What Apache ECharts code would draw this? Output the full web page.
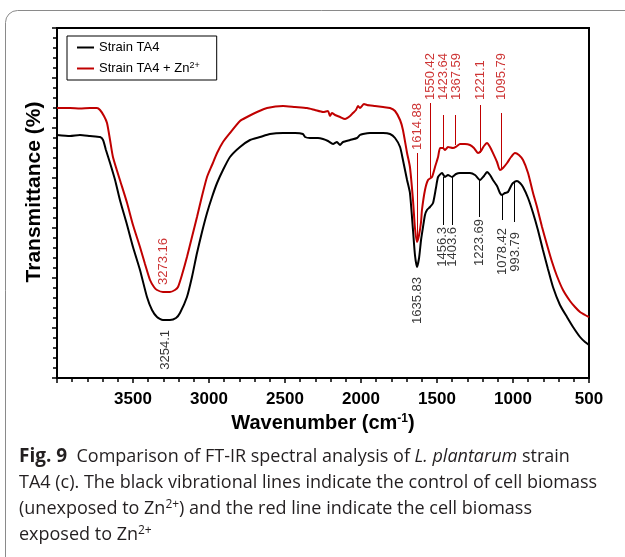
<!DOCTYPE html>
<html>
<head>
<meta charset="utf-8">
<title>FT-IR TA4</title>
<script src="https://cdn.jsdelivr.net/npm/echarts@6/dist/echarts.min.js"></script>
<style>
    html, body { margin: 0; padding: 0; background: #fff; }
    #chart { width: 625px; height: 557px; }
</style>
</head>
<body>
<div id="chart"></div>
<script>
    // 光谱数据 (wavenumber cm-1, transmittance arbitrary units)
    var blackWn = [4000, 3914, 3849, 3783, 3717, 3697, 3678, 3651, 3618, 3586, 3539, 3500, 3454, 3408, 3375, 3342, 3303, 3257, 3217, 3191,
        3145, 3112, 3079, 3046, 3013, 2980, 2947, 2908, 2862, 2796, 2730, 2664, 2599, 2513, 2434, 2382, 2368, 2336, 2283, 2250,
        2217, 2184, 2158, 2138, 2118, 2072, 2026, 2007, 1987, 1941, 1855, 1809, 1776, 1743, 1724, 1697, 1678, 1658, 1645, 1632,
        1618, 1605, 1592, 1579, 1566, 1546, 1526, 1507, 1493, 1467, 1447, 1428, 1401, 1375, 1349, 1316, 1283, 1250, 1217, 1191,
        1171, 1151, 1132, 1105, 1086, 1072, 1053, 1033, 1013, 1000, 974, 954, 934, 901, 868, 836, 803, 770, 737, 691,
        645, 605, 559, 526, 500];
    var blackT = [24.3, 24.2, 24.3, 24.2, 24.1, 23.8, 22.8, 21.5, 19.8, 17.8, 15.3, 13.1, 10.8, 8.1, 6.8, 6.1, 5.8, 5.8, 6.0, 6.5,
        8.1, 10.1, 12.5, 14.6, 16.5, 18.1, 19.5, 20.8, 22.1, 23.1, 23.8, 24.1, 24.4, 24.5, 24.5, 24.4, 24.1, 24.0, 24.0, 23.9,
        23.7, 23.4, 23.6, 23.3, 23.6, 23.8, 24.0, 24.3, 24.4, 24.5, 24.5, 24.4, 24.0, 23.1, 21.8, 19.8, 18.5, 14.8, 12.3, 11.1,
        12.0, 13.8, 15.1, 16.3, 16.8, 17.1, 17.5, 19.0, 20.1, 20.5, 20.1, 20.3, 20.1, 20.4, 20.5, 20.5, 20.5, 20.3, 19.8, 20.2,
        20.6, 20.3, 19.8, 19.2, 18.5, 18.3, 18.5, 18.6, 19.2, 19.5, 19.7, 19.5, 19.1, 18.0, 16.5, 14.8, 12.8, 10.9, 9.1, 7.3,
        6.1, 5.1, 4.1, 3.6, 3.3];

    var redWn = [4000, 3914, 3849, 3783, 3737, 3717, 3691, 3671, 3651, 3632, 3586, 3539, 3500, 3454, 3421, 3388, 3362, 3342, 3303, 3257,
        3224, 3204, 3178, 3145, 3112, 3079, 3046, 3013, 2980, 2947, 2908, 2862, 2796, 2750, 2684, 2618, 2513, 2434, 2355, 2303,
        2250, 2217, 2204, 2191, 2171, 2138, 2105, 2072, 2053, 2033, 2020, 2007, 1980, 1961, 1908, 1855, 1809, 1776, 1743, 1724,
        1697, 1678, 1658, 1645, 1632, 1618, 1605, 1599, 1579, 1559, 1533, 1513, 1493, 1480, 1461, 1447, 1428, 1395, 1368, 1349,
        1316, 1283, 1257, 1230, 1211, 1191, 1171, 1151, 1132, 1105, 1086, 1066, 1039, 1013, 987, 961, 934, 901, 868, 842,
        809, 776, 743, 711, 671, 625, 592, 559, 526, 500];
    var redT = [27.0, 27.0, 26.95, 27.0, 27.0, 26.8, 26.2, 25.5, 23.8, 22.1, 19.8, 17.5, 15.3, 13.1, 11.4, 9.8, 9.1, 8.8, 8.6, 8.6,
        8.8, 9.1, 10.3, 12.1, 14.1, 16.1, 18.2, 20.1, 21.3, 22.5, 23.6, 24.5, 25.7, 26.1, 26.6, 27.0, 27.2, 27.1, 27.0, 26.8,
        26.6, 26.7, 26.2, 26.5, 26.3, 26.1, 25.9, 26.2, 26.5, 26.8, 27.2, 27.0, 27.4, 27.3, 27.2, 27.1, 27.0, 26.7, 25.8, 24.8,
        22.5, 21.1, 17.8, 15.0, 13.6, 14.3, 15.6, 16.8, 18.8, 19.8, 20.1, 21.1, 22.1, 23.0, 23.0, 22.8, 23.1, 23.0, 23.2, 23.4,
        23.4, 23.3, 23.0, 22.5, 22.7, 23.2, 23.5, 23.1, 22.5, 21.6, 20.8, 21.0, 21.5, 22.1, 22.5, 22.3, 21.8, 20.5, 18.5, 17.1,
        15.1, 13.3, 11.6, 10.2, 8.8, 7.7, 7.1, 6.6, 6.3, 6.1];

    // 峰值标注: 文字, 标注位置 (波数, 透过率)
    var redLabelText = ['3273.16', '1614.88', '1550.42', '1423.64', '1367.59', '1221.1', '1095.79'];
    var redLabelWn = [3303, 1632, 1546, 1456, 1375, 1217, 1079];
    var redLabelT = [9.3, 22.8, 27.8, 27.8, 27.8, 27.8, 27.8];
    var blackLabelText = ['3254.1', '1635.83', '1456.3', '1403.6', '1223.69', '1078.42', '993.79'];
    var blackLabelWn = [3289, 1632, 1465, 1397, 1224, 1072, 987];
    var blackLabelT = [4.8, 10.1, 15.1, 15.1, 15.9, 15.0, 14.6];

    // 标注竖线
    var redLineWn = [1632, 1546, 1456, 1378, 1217, 1079];
    var redLineTop = [22.5, 27.5, 26.3, 26.3, 27.3, 26.5];
    var redLineBottom = [13.8, 20.1, 23.0, 23.3, 22.5, 20.8];
    var blackLineWn = [1462, 1400, 1224, 1072, 990];
    var blackLineTop = [20.1, 20.1, 19.8, 18.3, 19.5];
    var blackLineBottom = [15.3, 15.3, 16.1, 15.8, 15.6];

    var RED = '#c00000';
    var FONT = 'Liberation Sans';

    function pairs(xs, ys) {
        return xs.map(function (x, i) { return [x, ys[i]]; });
    }
    function labelData(texts, xs, ys) {
        return xs.map(function (x, i) { return [x, ys[i], texts[i]]; });
    }
    function segs(xs, top, bottom) {
        return xs.map(function (x, i) { return [{coord: [x, top[i]]}, {coord: [x, bottom[i]]}]; });
    }
    function labelSeries(data, color, align, lines) {
        return {
            type: 'scatter',
            data: data,
            symbolSize: 1,
            itemStyle: {color: 'transparent'},
            silent: true,
            label: {
                show: true,
                position: 'inside',
                formatter: function (p) { return p.value[2]; },
                rotate: 90,
                align: align,
                verticalAlign: 'middle',
                fontSize: 13,
                fontFamily: FONT,
                color: color
            },
            markLine: {
                silent: true,
                symbol: ['none', 'none'],
                label: {show: false},
                lineStyle: {color: color, width: 1, type: 'solid'},
                data: lines
            }
        };
    }

    var caption = '{b|Fig. 9}  Comparison of FT-IR spectral analysis of {i|L. plantarum} strain\n' +
        'TA4 (c). The black vibrational lines indicate the control of cell biomass\n' +
        '(unexposed to Zn{s|2+}) and the red line indicate the cell biomass\n' +
        'exposed to Zn{s|2+}';

    var chart = echarts.init(document.getElementById('chart'));
    chart.setOption({
        animation: false,
        grid: {
            left: 57, right: 36, top: 28, bottom: 179,
            show: true, borderColor: '#000', borderWidth: 2
        },
        legend: {
            orient: 'vertical',
            left: 67, top: 36,
            padding: [5, 17, 5, 10],
            itemGap: 7,
            itemWidth: 17, itemHeight: 2,
            icon: 'rect',
            borderColor: '#000', borderWidth: 1,
            formatter: function (name) {
                return name === 'Strain TA4' ? '{t|Strain TA4}' : '{t|Strain TA4 + Zn}{s|2+}';
            },
            textStyle: {
                fontFamily: FONT, fontSize: 13, color: '#000',
                rich: {
                    t: {fontFamily: FONT, fontSize: 13, color: '#000', lineHeight: 15},
                    s: {fontFamily: FONT, fontSize: 9, color: '#000', verticalAlign: 'top', lineHeight: 10}
                }
            },
            data: ['Strain TA4', 'Strain TA4 + Zn2+']
        },
        xAxis: {
            type: 'value',
            min: 500, max: 4000, interval: 500,
            inverse: true,
            name: '{a|Wavenumber (cm}{s|-1}{a|)}',
            nameLocation: 'middle',
            nameGap: 33,
            nameTextStyle: {
                rich: {
                    a: {fontFamily: FONT, fontWeight: 'bold', fontSize: 20, color: '#000', lineHeight: 22},
                    s: {fontFamily: FONT, fontWeight: 'bold', fontSize: 12, color: '#000', verticalAlign: 'top', lineHeight: 12}
                }
            },
            axisLine: {lineStyle: {color: '#000', width: 2}},
            axisTick: {length: 5, lineStyle: {color: '#000', width: 1.5}},
            minorTick: {show: true, splitNumber: 5, length: 4, lineStyle: {color: '#000', width: 1.5}},
            axisLabel: {
                showMaxLabel: false,
                formatter: function (v) { return String(v); },
                fontFamily: FONT, fontWeight: 'bold', fontSize: 17, color: '#000', margin: 13
            },
            splitLine: {show: false}
        },
        yAxis: {
            type: 'value',
            min: 0, max: 35, interval: 5,
            name: 'Transmittance (%)',
            nameLocation: 'middle',
            nameGap: 12,
            nameTextStyle: {
                fontFamily: FONT, fontWeight: 'bold', fontSize: 21, color: '#000',
                padding: [0, 0, 0, 22]
            },
            axisLine: {lineStyle: {color: '#000', width: 2}},
            axisTick: {length: 5, lineStyle: {color: '#000', width: 1.5}},
            minorTick: {show: true, splitNumber: 5, length: 4, lineStyle: {color: '#000', width: 1.5}},
            axisLabel: {show: false},
            splitLine: {show: false}
        },
        graphic: [
            {
                type: 'rect', z: -10, silent: true,
                shape: {x: 5.5, y: 10.5, width: 720, height: 600, r: 12},
                style: {fill: 'none', stroke: '#8a8a8a', lineWidth: 1}
            },
            {
                type: 'text', left: 19, top: 444, silent: true,
                style: {
                    text: caption,
                    fontFamily: 'Open Sans', fontSize: 18, fill: '#231f20', lineHeight: 26,
                    rich: {
                        b: {fontFamily: 'Open Sans', fontWeight: 'bold', fontSize: 19, fill: '#231f20', lineHeight: 26},
                        i: {fontFamily: 'Open Sans', fontStyle: 'italic', fontSize: 18, fill: '#231f20', lineHeight: 26},
                        s: {fontFamily: 'Open Sans', fontSize: 12, fill: '#231f20', lineHeight: 12, padding: [0, 0, 8, 0]}
                    }
                }
            }
        ],
        series: [
            {
                name: 'Strain TA4',
                type: 'line',
                data: pairs(blackWn, blackT),
                showSymbol: false,
                smooth: 0.2,
                color: '#000',
                lineStyle: {color: '#000', width: 2},
                z: 3
            },
            {
                name: 'Strain TA4 + Zn2+',
                type: 'line',
                data: pairs(redWn, redT),
                showSymbol: false,
                smooth: 0.2,
                color: RED,
                lineStyle: {color: RED, width: 2},
                z: 3
            },
            labelSeries(labelData(redLabelText, redLabelWn, redLabelT), RED, 'left', segs(redLineWn, redLineTop, redLineBottom)),
            labelSeries(labelData(blackLabelText, blackLabelWn, blackLabelT), '#000', 'right', segs(blackLineWn, blackLineTop, blackLineBottom))
        ]
    });
</script>
</body>
</html>
